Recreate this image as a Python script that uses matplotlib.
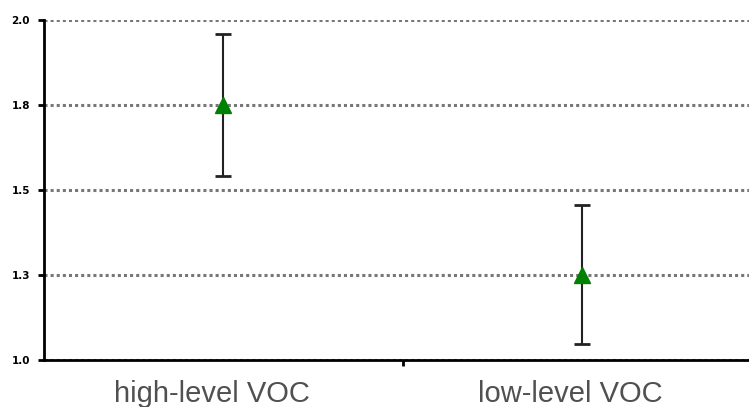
import matplotlib.pyplot as plt
import matplotlib.transforms as mtransforms
import numpy as np

groups = ['high-level VOC', 'low-level VOC']
means = [1.75, 1.25]
err_low = [0.21, 0.203]
err_high = [0.21, 0.205]
ytick_vals = [1.0, 1.25, 1.5, 1.75, 2.0]
ytick_labels = ['1.0', '1.3', '1.5', '1.8', '2.0']

fig = plt.figure(figsize=(7.49, 4.07), dpi=100)
ax = fig.add_axes([44/749, 47/407, 705/749, 340/407])

x = np.arange(len(groups))
ax.errorbar(x, means, yerr=[err_low, err_high], fmt='^', color='black', ecolor='#222222',
            elinewidth=1.5, capsize=6, capthick=2, markersize=12,
            markerfacecolor='#008000', markeredgecolor='#008000', zorder=3)

ax.set_ylim(1.0, 2.0)
ax.set_xlim(-0.5, 1.464)
ax.set_yticks(ytick_vals)
ax.set_yticklabels(ytick_labels, fontsize=7.5, fontweight='bold')
ax.yaxis.grid(True, linestyle=(0, (1, 1)), linewidth=2.2, color='#777777')
ax.set_axisbelow(True)

# group labels sit under each point, the tick marks the boundary
ax.set_xticks([0.5])
ax.set_xticklabels([''])
shift = mtransforms.ScaledTranslation(-12/100, 0, fig.dpi_scale_trans)
for xi, g in zip(x, groups):
    ax.text(xi, -0.1235, g, transform=ax.get_xaxis_transform() + shift,
            ha='center', va='baseline', fontsize=21, family='Liberation Sans',
            color='#505050')

ax.tick_params(axis='y', direction='out', length=4, width=2, pad=6)
ax.tick_params(axis='x', direction='out', length=4, width=2)
for s in ['top', 'right']:
    ax.spines[s].set_visible(False)
ax.spines['left'].set_linewidth(2)
ax.spines['bottom'].set_linewidth(2)

plt.savefig('out.png', dpi=100)
